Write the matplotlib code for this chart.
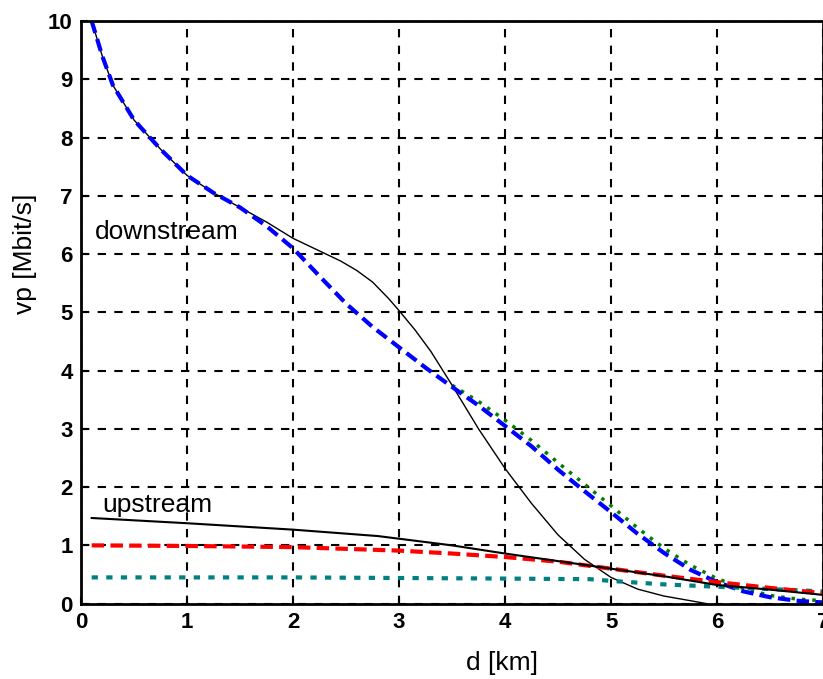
import matplotlib
matplotlib.use("Agg")
import matplotlib.pyplot as plt
import numpy as np

plt.rcParams['font.family'] = ['Liberation Sans', 'DejaVu Sans']

# Downstream, one-pair model (black)
d_down_black = [0.1, 0.2, 0.3, 0.5, 0.75, 1.0, 1.25, 1.5, 1.75, 2.0, 2.15, 2.3, 2.45, 2.6, 2.75, 2.9, 3.0, 3.15, 3.3, 3.5, 3.75, 4.0, 4.25, 4.5, 4.75, 5.0, 5.25, 5.5, 5.75, 5.9]
v_down_black = [10.0, 9.4, 8.9, 8.3, 7.8, 7.35, 7.05, 6.8, 6.55, 6.27, 6.14, 6.01, 5.88, 5.72, 5.52, 5.24, 5.03, 4.7, 4.33, 3.75, 3.0, 2.32, 1.72, 1.18, 0.76, 0.45, 0.25, 0.13, 0.05, 0.0]

# Downstream (blue dashed)
d_down_blue = [0.1, 0.2, 0.3, 0.5, 0.75, 1.0, 1.25, 1.5, 1.75, 2.0, 2.25, 2.5, 2.75, 3.0, 3.25, 3.5, 3.75, 4.0, 4.25, 4.5, 4.75, 5.0, 5.25, 5.5, 5.75, 6.0, 6.25, 6.5, 6.75, 7.0]
v_down_blue = [10.0, 9.4, 8.9, 8.3, 7.8, 7.35, 7.05, 6.8, 6.48, 6.1, 5.62, 5.15, 4.75, 4.4, 4.05, 3.72, 3.4, 3.05, 2.7, 2.3, 1.93, 1.57, 1.2, 0.87, 0.58, 0.37, 0.21, 0.11, 0.05, 0.02]

# Downstream (green dotted)
d_down_green = [3.5, 3.75, 4.0, 4.25, 4.5, 4.75, 5.0, 5.25, 5.5, 5.75, 6.0, 6.25, 6.5, 6.75, 7.0]
v_down_green = [3.75, 3.47, 3.15, 2.8, 2.42, 2.05, 1.68, 1.3, 0.95, 0.66, 0.43, 0.26, 0.14, 0.08, 0.05]

# Upstream (black)
d_up_black = [0.1, 1.0, 2.0, 2.8, 3.5, 4.0, 4.5, 5.0, 5.5, 6.0, 6.5, 7.0]
v_up_black = [1.47, 1.38, 1.27, 1.16, 1.0, 0.86, 0.73, 0.6, 0.47, 0.32, 0.24, 0.15]

# Upstream (red dashed)
d_up_red = [0.1, 1.0, 2.0, 3.0, 3.5, 4.0, 4.5, 5.0, 5.5, 6.0, 6.5, 7.0]
v_up_red = [1.0, 0.99, 0.97, 0.91, 0.86, 0.8, 0.72, 0.6, 0.48, 0.37, 0.27, 0.18]

# Upstream (teal dotted)
d_up_teal = [0.1, 1.0, 2.0, 3.0, 4.0, 4.8, 5.0, 5.5, 6.0, 6.5, 7.0]
v_up_teal = [0.45, 0.45, 0.45, 0.44, 0.43, 0.42, 0.39, 0.33, 0.29, 0.25, 0.21]

fig = plt.figure(figsize=(8.23, 6.79), dpi=100)
ax = fig.add_axes([0.0985, 0.111, 0.9015, 0.858])

ax.plot(d_down_green, v_down_green, color='#007f00', linestyle=(0, (1, 2)), linewidth=2.5)
ax.plot(d_down_black, v_down_black, color='black', linewidth=1.0)
ax.plot(d_down_blue, v_down_blue, color='#0000ff', linestyle=(0, (3, 1.5)), linewidth=3)
ax.plot(d_up_teal, v_up_teal, color='#008080', linestyle=(0, (1.5, 2)), linewidth=3)
ax.plot(d_up_red, v_up_red, color='#ff0000', linestyle=(0, (3, 1.5)), linewidth=3)
ax.plot(d_up_black, v_up_black, color='black', linewidth=1.5)

ax.set_xlim(0, 7)
ax.set_ylim(0, 10)
ax.set_xticks(range(0, 8))
ax.set_yticks(range(0, 11))
ax.grid(True, color='black', linestyle=(0, (4, 4)), linewidth=1.5)
for s in ax.spines.values():
    s.set_linewidth(2)
ax.tick_params(direction='in', length=5, width=1.5, labelsize=16, pad=6)
for lab in ax.get_xticklabels() + ax.get_yticklabels():
    lab.set_fontweight('bold')

fig.text(502 / 823, 1 - 663 / 679, 'd [km]', fontsize=19, ha='center', va='center')
fig.text(25 / 823, 1 - 254 / 679, 'vp [Mbit/s]', fontsize=19, ha='center', va='center', rotation=90)

ax.text(0.13, 6.38, 'downstream', fontsize=19, va='center')
ax.text(0.2, 1.7, 'upstream', fontsize=19, va='center')

fig.savefig('out.png', dpi=100)
